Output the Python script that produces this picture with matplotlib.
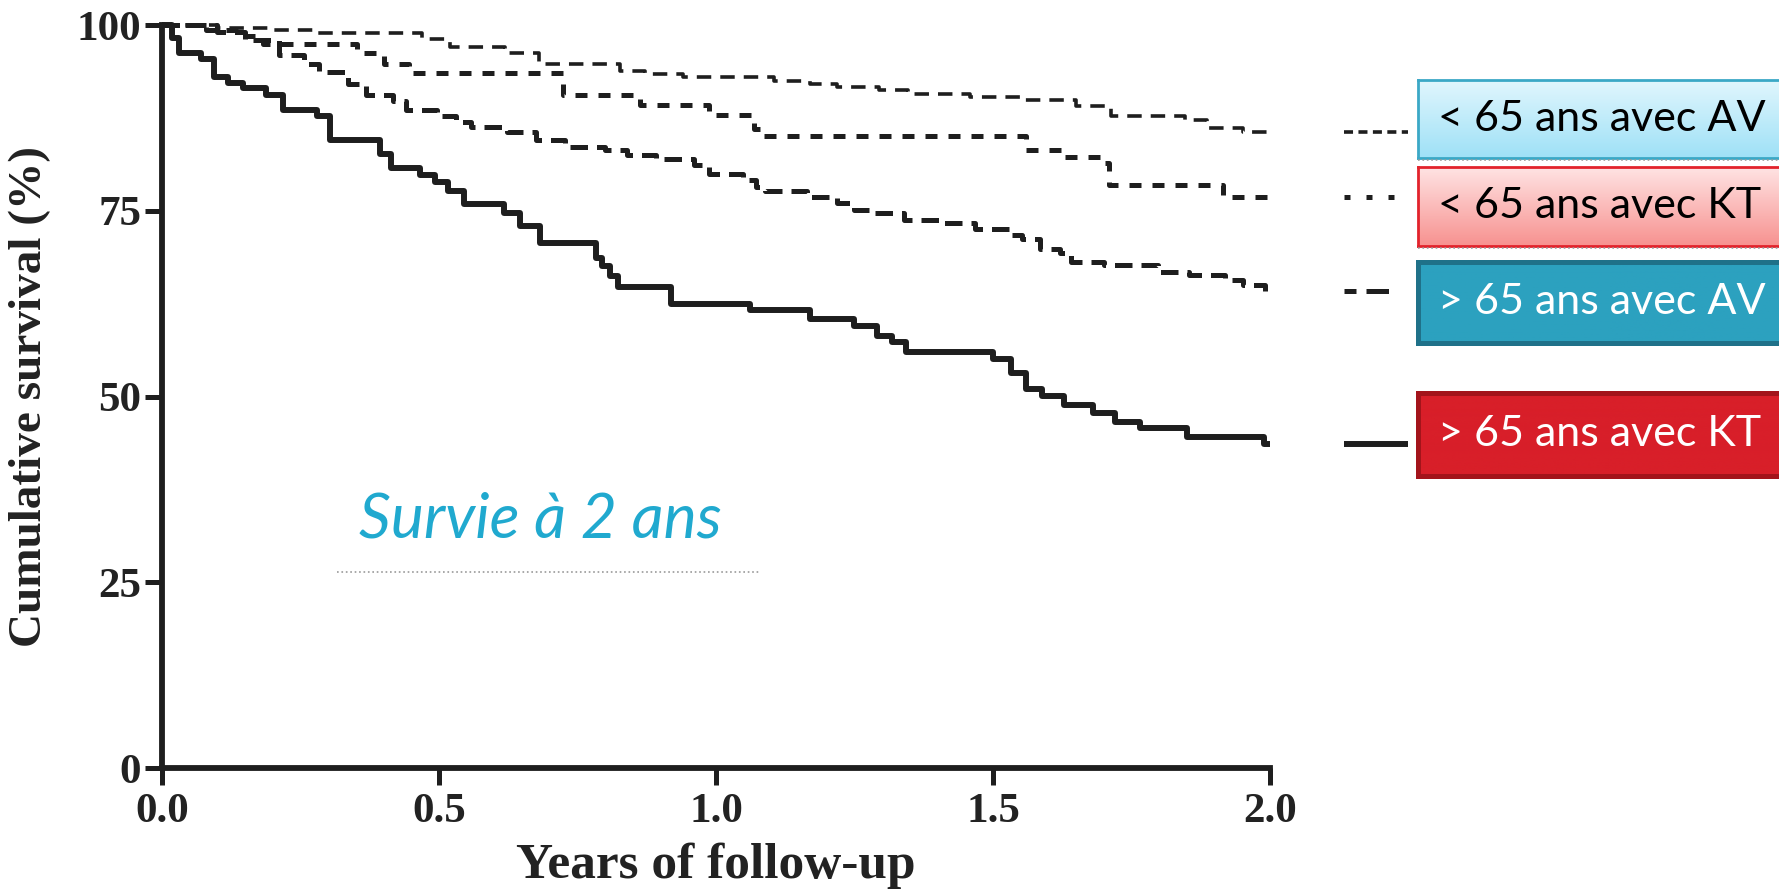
#courbes de survie a 2 ans
import numpy as np
import matplotlib
matplotlib.use('Agg')
import matplotlib.pyplot as plt

# donnees (annees, survie %)
t_av_moins65 = [0, 0.10, 0.20, 0.28, 0.47, 0.52, 0.62, 0.68, 0.827, 0.871, 0.94, 1.105, 1.169, 1.218, 1.294, 1.347,
                1.459, 1.548, 1.649, 1.713, 1.846, 1.886, 1.951, 2.0]
v_av_moins65 = [100, 99.6, 99.3, 98.9, 98.1, 97.1, 96.2, 94.8, 93.8, 93.4, 93.0, 92.5, 92.1, 91.6, 91.3, 90.7,
                90.3, 89.9, 89.1, 87.8, 87.2, 86.1, 85.6, 85.6]

t_kt_moins65 = [0, 0.08, 0.15, 0.183, 0.352, 0.40, 0.445, 0.723, 0.863, 0.988, 1.069, 1.08, 1.560, 1.629, 1.697,
                1.709, 1.915, 2.0]
v_kt_moins65 = [100, 99.3, 98.5, 97.5, 96.2, 94.8, 93.6, 90.6, 89.2, 87.9, 86.0, 85.0, 83.2, 82.3, 81.4,
                78.5, 76.8, 76.8]

t_av_plus65 = [0, 0.10, 0.15, 0.211, 0.256, 0.284, 0.336, 0.368, 0.417, 0.441, 0.497, 0.530, 0.558, 0.622, 0.675,
               0.727, 0.80, 0.839, 0.891, 0.96, 0.988, 1.049, 1.073, 1.088, 1.165, 1.218, 1.25, 1.278, 1.339,
               1.403, 1.468, 1.532, 1.552, 1.584, 1.621, 1.641, 1.701, 1.798, 1.854, 1.919, 1.951, 1.991, 2.0]
v_av_plus65 = [100, 99.0, 98.0, 96.0, 94.8, 93.7, 92.1, 90.6, 89.8, 88.6, 87.7, 87.0, 86.3, 85.6, 84.5,
               83.6, 83.2, 82.5, 81.9, 81.2, 80.0, 79.1, 78.2, 77.6, 76.9, 76.0, 75.1, 74.7, 73.7,
               73.4, 72.5, 71.7, 71.2, 69.9, 69.3, 68.1, 67.7, 66.8, 66.4, 65.7, 65.0, 64.2, 64.2]

t_kt_plus65 = [0, 0.018, 0.030, 0.070, 0.094, 0.119, 0.147, 0.187, 0.219, 0.280, 0.304, 0.393, 0.413, 0.465,
               0.493, 0.517, 0.546, 0.618, 0.646, 0.683, 0.783, 0.795, 0.808, 0.824, 0.919, 1.061, 1.169, 1.250,
               1.290, 1.318, 1.343, 1.500, 1.532, 1.560, 1.588, 1.629, 1.681, 1.721, 1.765, 1.850, 1.990, 2.0]
v_kt_plus65 = [100, 98.2, 96.2, 95.4, 93.0, 92.2, 91.5, 90.6, 88.6, 87.7, 84.5, 82.7, 80.7, 79.8,
               78.9, 77.6, 75.9, 74.7, 72.9, 70.7, 68.6, 67.5, 66.2, 64.8, 62.5, 61.7, 60.4, 59.5,
               58.1, 57.4, 56.0, 55.1, 53.1, 51.0, 50.1, 48.8, 47.8, 46.6, 45.7, 44.5, 43.6, 43.6]

labels = ['< 65 ans avec AV', '< 65 ans avec KT', '> 65 ans avec AV', '> 65 ans avec KT']
x_ticks = [0.0, 0.5, 1.0, 1.5, 2.0]
y_ticks = [0, 25, 50, 75, 100]

W, H = 1779, 896
fig = plt.figure(figsize=(W / 100, H / 100), dpi=100)
ax = fig.add_axes([162 / W, (H - 768) / H, (1270 - 162) / W, (768 - 25) / H])

noir = '#1e1e1e'
# (epaisseur, style courbe, style trait de legende)
styles = [(2.6, (0, (4, 2.5)), (0, (2.5, 1.5))),
          (3.6, (0, (2.4, 2.2)), (0, (1.2, 3.2))),
          (3.6, (0, (3.5, 1.8)), (0, (2.4, 2.0, 4.5, 10))),
          (4.3, '-', '-')]
series = [(t_av_moins65, v_av_moins65), (t_kt_moins65, v_kt_moins65),
          (t_av_plus65, v_av_plus65), (t_kt_plus65, v_kt_plus65)]

for (t, v), (lw, ls, ls_leg) in zip(series, styles):
    ax.step(t, v, where='post', color=noir, lw=lw, linestyle=ls, clip_on=False, solid_capstyle='butt')
    # petit trait de legende a droite du graphe
    ax.plot([2.134, 2.25], [v[-1], v[-1]], color=noir, lw=lw, linestyle=ls_leg, clip_on=False,
            solid_capstyle='butt')

ax.set_xlim(0, 2.0)
ax.set_ylim(0, 100)
ax.set_xticks(x_ticks)
ax.set_xticklabels(['%.1f' % x for x in x_ticks])
ax.set_yticks(y_ticks)
ax.set_yticklabels([str(y) for y in y_ticks])
for s in ['top', 'right']:
    ax.spines[s].set_visible(False)
for s in ['left', 'bottom']:
    ax.spines[s].set_linewidth(4.2)
    ax.spines[s].set_color(noir)
ax.tick_params(axis='both', direction='out', length=12, width=3.6, color=noir)
ax.tick_params(axis='y', pad=3)
ax.tick_params(axis='x', pad=6)
for lab in ax.get_xticklabels() + ax.get_yticklabels():
    lab.set_fontfamily('Liberation Serif')
    lab.set_fontweight('bold')
    lab.set_fontsize(31)
    lab.set_color('#222222')

ax.set_ylabel('Cumulative survival (%)', family='Liberation Serif', weight='bold', fontsize=34, color='#222222')
ax.yaxis.set_label_coords(-0.100, 0.5)
ax.set_xlabel('Years of follow-up', family='Liberation Serif', weight='bold', fontsize=37, color='#222222')
ax.xaxis.set_label_coords(0.5, -0.100)

# texte "Survie a 2 ans" et pointilles
fig.text(359 / W, (H - 538) / H, 'Survie à 2 ans', family='Lato', style='italic', fontsize=45,
         color='#20a9cf', va='baseline', ha='left')
fig.add_artist(plt.Line2D([337 / W, 760 / W], [(H - 572) / H] * 2, color='#9a9a9a', lw=1.2, linestyle=':'))

# boites de legende
boites = [(80, 158, '#e0f6fd', '#9fe1f7', '#3ba8c6', 2.0, 'black'),
          (167, 246, '#ffe3e3', '#f79290', '#e2232c', 2.0, 'black'),
          (262, 343, '#2ca1bf', '#2ca1bf', '#1f7189', 3.6, 'white'),
          (393, 476, '#d81f29', '#d81f29', '#a3141b', 3.6, 'white')]
for (y0, y1, c_haut, c_bas, c_bord, lw_bord, c_txt), lab in zip(boites, labels):
    bax = fig.add_axes([1418 / W, (H - y1) / H, 380 / W, (y1 - y0) / H])
    c1 = np.array(matplotlib.colors.to_rgb(c_haut))
    c2 = np.array(matplotlib.colors.to_rgb(c_bas))
    f = np.linspace(0, 1, 50)[:, None, None]
    grad = c1 * (1 - f) + c2 * f
    bax.imshow(grad, aspect='auto', extent=[0, 1, 0, 1])
    bax.set_xticks([])
    bax.set_yticks([])
    for s in bax.spines.values():
        s.set_color(c_bord)
        s.set_linewidth(lw_bord)
    bax.text(20 / 380, 0.5, lab, transform=bax.transAxes, family='Lato', fontsize=31,
             color=c_txt, va='center', ha='left')

# pointilles gris sous les deux premieres boites
for yy in [160, 248]:
    fig.add_artist(plt.Line2D([1418 / W, 1.0], [(H - yy) / H] * 2, color='#9a9a9a', lw=1.2, linestyle=':'))

plt.savefig('out.png', dpi=100)
